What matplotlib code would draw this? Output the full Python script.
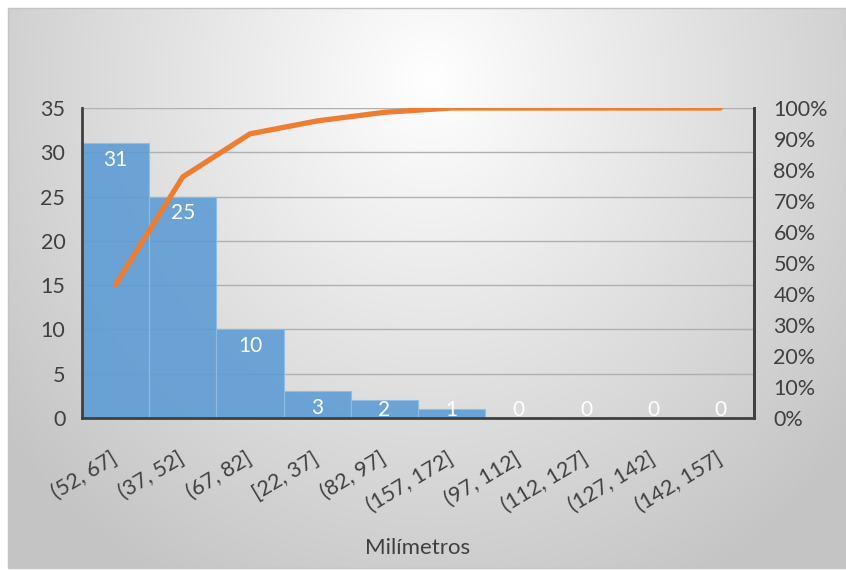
import matplotlib
matplotlib.use("Agg")
import matplotlib.pyplot as plt
import numpy as np
from matplotlib.patches import Rectangle

plt.rcParams['font.family'] = ['Lato', 'DejaVu Sans']

# Histogram bins (sorted by frequency) and their counts
bins = ["(52, 67]", "(37, 52]", "(67, 82]", "[22, 37]", "(82, 97]",
        "(157, 172]", "(97, 112]", "(112, 127]", "(127, 142]", "(142, 157]"]
counts = [31, 25, 10, 3, 2, 1, 0, 0, 0, 0]
left_ticks = [0, 5, 10, 15, 20, 25, 30, 35]
right_ticks = [0.0, 0.1, 0.2, 0.3, 0.4, 0.5, 0.6, 0.7, 0.8, 0.9, 1.0]
x_title = "Milímetros"

# Pareto cumulative share
cum_share = np.cumsum(counts) / np.sum(counts)

W, H = 846, 570
fig = plt.figure(figsize=(W / 100, H / 100), dpi=100)

# Background: chart frame with a soft radial gradient
bg = fig.add_axes([0, 0, 1, 1], zorder=-5)
bg.set_xlim(0, W)
bg.set_ylim(H, 0)
bg.axis("off")
xs = np.arange(8, W)
ys = np.arange(8, 568)
gx, gy = np.meshgrid(xs, ys)
r = np.sqrt(((gx - 430) / 540.0) ** 2 + ((gy - 80) / 580.0) ** 2)
r = np.clip(r, 0, 1)
shade = 1.0 - r * (1.0 - 0.77)
img = np.dstack([shade, shade, shade])
bg.imshow(img, extent=[8, W, 568, 8], interpolation="bilinear", aspect="auto")
bg.add_patch(Rectangle((8, 8), W - 8, 560, fill=False, edgecolor="#c4c4c4", lw=1))

# Main axes
ax = fig.add_axes([82 / W, 1 - 418 / H, (754 - 82) / W, (418 - 108) / H])
ax.patch.set_alpha(0)
x = np.arange(len(bins))
ax.bar(x, counts, width=1.0, color="#5b9bd5", alpha=0.88,
       edgecolor="#8fbde6", linewidth=0.8, zorder=2)
ax.set_xlim(-0.5, len(bins) - 0.5)
ax.set_ylim(0, 35)
ax.set_yticks(left_ticks)
ax.yaxis.grid(True, color="#b0b0b0", linewidth=1.0)
ax.set_axisbelow(True)

for xi, v in zip(x, counts):
    ax.text(xi, max(v - 1.9, 0.9), str(v), ha="center", va="center",
            color="white", fontsize=15, zorder=4)

for side in ["top"]:
    ax.spines[side].set_visible(False)
for side in ["left", "bottom", "right"]:
    ax.spines[side].set_color("#404040")
    ax.spines[side].set_linewidth(2.0)

ax.set_xticks(x)
ax.set_xticklabels(bins, rotation=31, ha="right", va="center",
                   rotation_mode="anchor")
ax.tick_params(axis="x", length=0, pad=28, labelsize=15.5, labelcolor="#404040")
ax.tick_params(axis="y", length=0, pad=12, labelsize=15.5, labelcolor="#404040")

# Secondary axis with cumulative percentage
ax2 = ax.twinx()
ax2.patch.set_alpha(0)
ax2.plot(x, cum_share, color="#ed7d31", linewidth=3.8,
         solid_capstyle="round", solid_joinstyle="round", zorder=3)
ax2.set_ylim(0, 1)
ax2.set_yticks(right_ticks)
ax2.set_yticklabels([f"{int(round(t * 100))}%" for t in right_ticks])
ax2.tick_params(axis="y", length=0, pad=14, labelsize=15.5, labelcolor="#404040")
for side in ["top", "left", "bottom"]:
    ax2.spines[side].set_visible(False)
ax2.spines["right"].set_color("#404040")
ax2.spines["right"].set_linewidth(2.0)

fig.text(418 / W, 1 - 548 / H, x_title, ha="center", va="center",
         fontsize=16, color="#404040")

fig.savefig("out.png", dpi=100)
